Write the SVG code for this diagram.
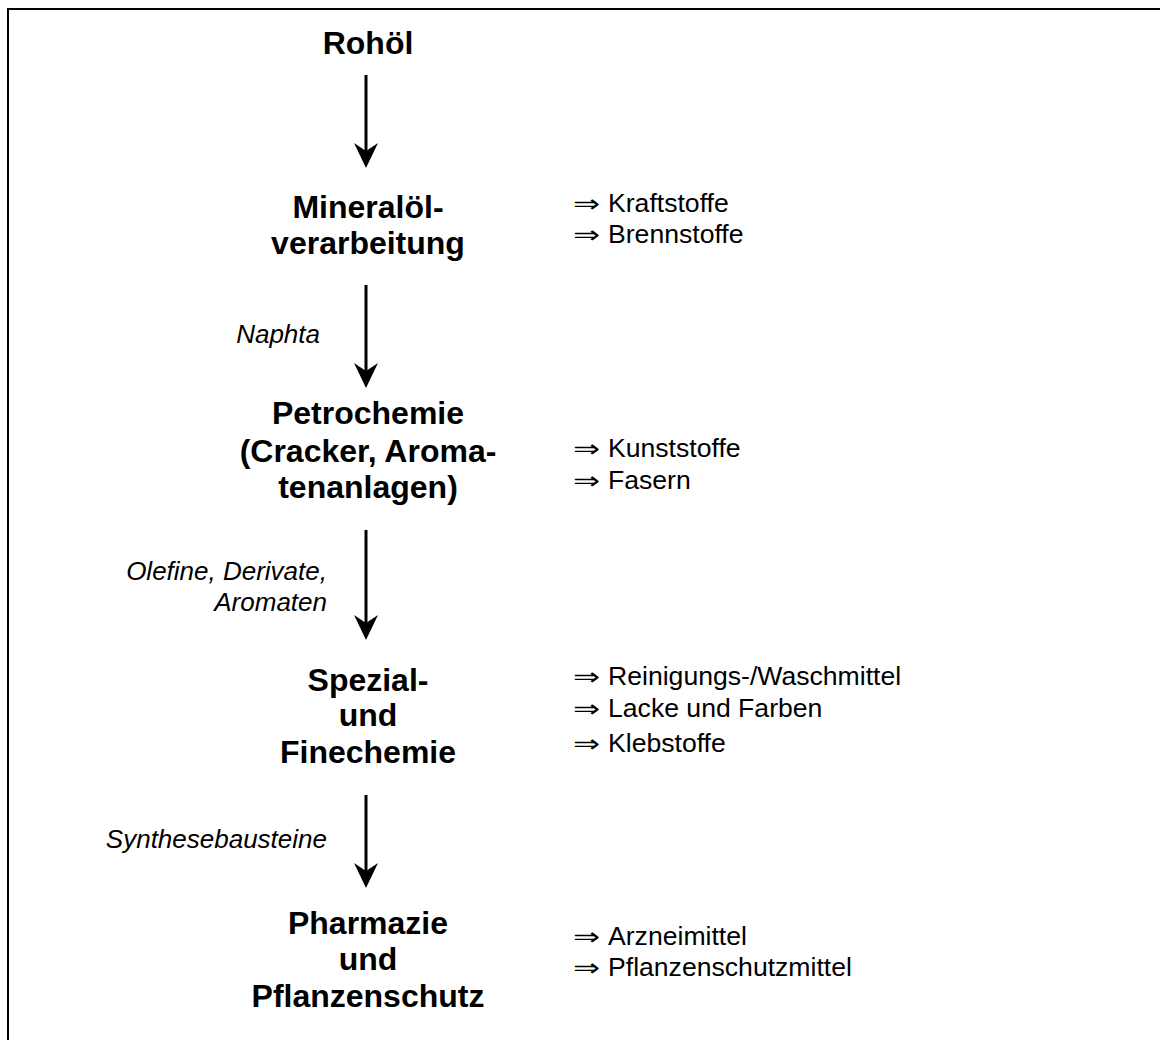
<svg xmlns="http://www.w3.org/2000/svg" width="1160" height="1041" viewBox="0 0 1160 1041">
<style>
.b{font-family:"Liberation Sans",Arial,sans-serif;font-weight:bold;font-size:32px;fill:#000;text-anchor:middle}
.i{font-family:"Liberation Sans",Arial,sans-serif;font-style:italic;font-size:26px;fill:#000;text-anchor:end}
.r{font-family:"Liberation Sans",Arial,sans-serif;font-size:26.6px;fill:#000}
.ar{font-family:"DejaVu Sans",sans-serif;font-size:24px;fill:#000}
.ln{stroke:#000;stroke-width:3;fill:none}
</style>
<g id="frame">
<line x1="8" y1="9" x2="1160" y2="9" stroke="#000" stroke-width="2"/>
<line x1="8" y1="8" x2="8" y2="1040" stroke="#000" stroke-width="2"/>
</g>
<g id="connectors">
<path class="ln" d="M366,75 V160"/><path d="M366,168 L354,143 L366,151 L378,143 Z"/>
<path class="ln" d="M366,285 V380"/><path d="M366,388 L354,363 L366,371 L378,363 Z"/>
<path class="ln" d="M366,530 V632"/><path d="M366,640 L354,615 L366,623 L378,615 Z"/>
<path class="ln" d="M366,795 V880"/><path d="M366,888 L354,863 L366,871 L378,863 Z"/>
</g>
<g id="labels">
<text class="i" x="320" y="343">Naphta</text>
<text class="i" x="327" y="580">Olefine, Derivate,</text>
<text class="i" x="327" y="611">Aromaten</text>
<text class="i" x="327" y="848">Synthesebausteine</text>
</g>
<g id="n1"><text class="b" x="368" y="54">Rohöl</text></g>
<g id="n2">
<text class="b" x="368" y="218">Mineralöl-</text>
<text class="b" x="368" y="254">verarbeitung</text>
</g>
<g id="n3">
<text class="b" x="368" y="424">Petrochemie</text>
<text class="b" x="368" y="462">(Cracker, Aroma-</text>
<text class="b" x="368" y="498">tenanlagen)</text>
</g>
<g id="n4">
<text class="b" x="368" y="691">Spezial-</text>
<text class="b" x="368" y="726">und</text>
<text class="b" x="368" y="763">Finechemie</text>
</g>
<g id="n5">
<text class="b" x="368" y="934">Pharmazie</text>
<text class="b" x="368" y="970">und</text>
<text class="b" x="368" y="1007">Pflanzenschutz</text>
</g>
<g id="arrows-right">
<text class="ar" transform="translate(573,212) scale(1.35,1)">⇒</text>
<text class="ar" transform="translate(573,243) scale(1.35,1)">⇒</text>
<text class="ar" transform="translate(573,457) scale(1.35,1)">⇒</text>
<text class="ar" transform="translate(573,489) scale(1.35,1)">⇒</text>
<text class="ar" transform="translate(573,685) scale(1.35,1)">⇒</text>
<text class="ar" transform="translate(573,717) scale(1.35,1)">⇒</text>
<text class="ar" transform="translate(573,752) scale(1.35,1)">⇒</text>
<text class="ar" transform="translate(573,945) scale(1.35,1)">⇒</text>
<text class="ar" transform="translate(573,976) scale(1.35,1)">⇒</text>
</g>
<g id="products">
<text class="r" x="608" y="212">Kraftstoffe</text>
<text class="r" x="608" y="243">Brennstoffe</text>
<text class="r" x="608" y="457">Kunststoffe</text>
<text class="r" x="608" y="489">Fasern</text>
<text class="r" x="608" y="685">Reinigungs-/Waschmittel</text>
<text class="r" x="608" y="717">Lacke und Farben</text>
<text class="r" x="608" y="752">Klebstoffe</text>
<text class="r" x="608" y="945">Arzneimittel</text>
<text class="r" x="608" y="976">Pflanzenschutzmittel</text>
</g>
</svg>
